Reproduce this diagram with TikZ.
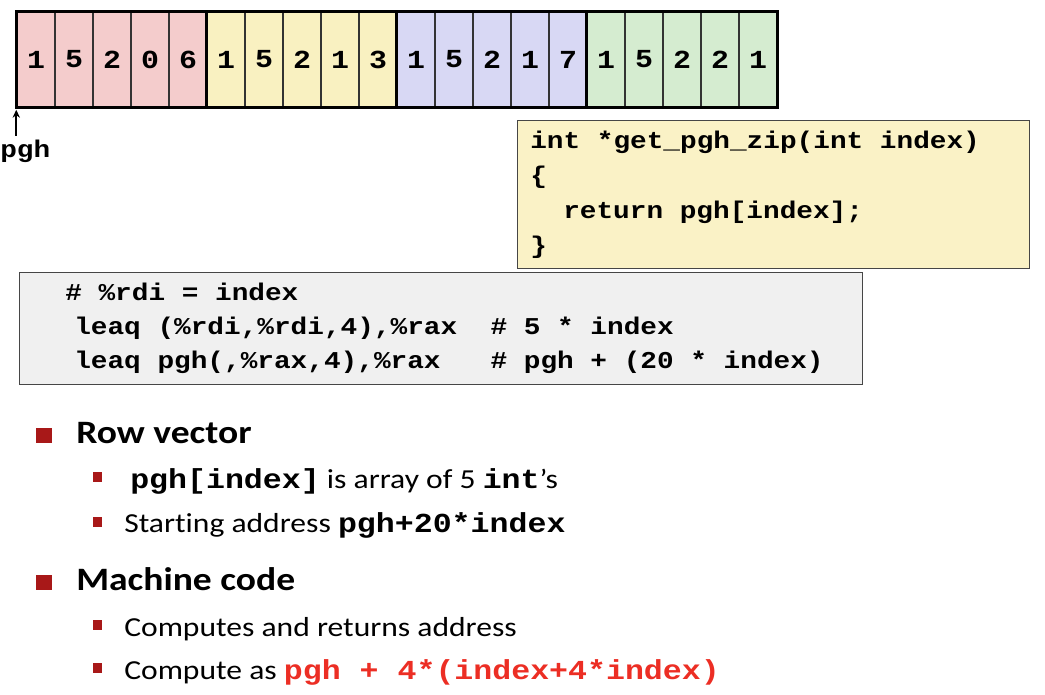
\documentclass[tikz,border=0pt]{standalone}
\usepackage{fontspec}
\setmainfont{Carlito}[FakeStretch=1.15, Ligatures=NoCommon]
\newfontfamily\codefont{Liberation Mono}[FakeStretch=1.15]
\usepackage{tikz}
\usetikzlibrary{arrows,arrows.meta,shapes,positioning}
\usepackage{xcolor}
\definecolor{rowpink}{RGB}{244,204,204}
\definecolor{rowyellow}{RGB}{249,241,193}
\definecolor{rowblue}{RGB}{216,216,244}
\definecolor{rowgreen}{RGB}{213,236,208}
\definecolor{codeyellow}{RGB}{250,242,198}
\definecolor{asmgray}{RGB}{240,240,240}
\definecolor{boxline}{RGB}{70,70,70}
\definecolor{bulletred}{RGB}{168,24,24}
\definecolor{hired}{RGB}{236,46,36}
\newcommand{\codeb}{\codefont\bfseries}
\tikzstyle{cell} = [rectangle, draw=black!80, line width=1.1pt, minimum width=28.5pt, minimum height=71.25pt, inner sep=0pt, font=\codeb\fontsize{19.5pt}{23pt}\selectfont]
\tikzstyle{group} = [draw=black, line width=2.6pt]
\tikzstyle{ptr} = [line width=1.5pt, -{Stealth[length=6pt,width=5.5pt]}, shorten >=1.5pt]
\tikzstyle{code} = [inner sep=0pt, anchor=base west, font=\codeb\fontsize{18.1pt}{22pt}\selectfont]
\tikzstyle{codebox} = [rectangle, draw=boxline, line width=1.1pt, fill=codeyellow, anchor=north west, inner sep=0pt]
\tikzstyle{asmbox} = [rectangle, draw=boxline, line width=1.1pt, fill=asmgray, anchor=north west, inner sep=0pt]
\tikzstyle{head} = [inner sep=0pt, anchor=base west, font=\bfseries\fontsize{24.5pt}{28pt}\selectfont]
\tikzstyle{sub} = [inner sep=0pt, anchor=base west, font=\fontsize{20.6pt}{24pt}\selectfont]
\tikzstyle{hbullet} = [rectangle, fill=bulletred, inner sep=0pt, minimum width=12pt, minimum height=11.25pt]
\tikzstyle{sbullet} = [rectangle, fill=bulletred, inner sep=0pt, minimum width=6.75pt, minimum height=7.5pt]

\begin{document}
\begin{tikzpicture}[x=0.75pt, y=-0.75pt]
\useasboundingbox (0,0) rectangle (1045,694);
% The four rows of pgh
\foreach \col/\digits [count=\g from 0] in {rowpink/{1,5,2,0,6},rowyellow/{1,5,2,1,3},rowblue/{1,5,2,1,7},rowgreen/{1,5,2,2,1}} {
  \foreach \d [count=\i from 0] in \digits
    \node (c\g\i) [cell, fill=\col] at ({36+38*(5*\g+\i)}, 59.5) {\d};
  \draw[group] (c\g0.north west) rectangle (c\g4.south east);
}
\node (pgh) [code] at (0,157) {pgh};
\coordinate (ptrtail) at ([yshift=-21pt]c00.south west);
\draw[ptr] (ptrtail) -- (c00.south west);

% C source
\node (csrc) [codebox, minimum width=384pt, minimum height=111pt] at (517,120) {};
\node (src1) [code] at (530,148) {int *get\_pgh\_zip(int index)};
\node (src2) [code] at (530,183) {\{};
\node (src3) [code] at (563,218) {return pgh[index];};
\node (src4) [code] at (530,253) {\}};

% Assembly
\node (asm) [asmbox, minimum width=632.25pt, minimum height=84pt] at (19,272) {};
\node (asm1) [code] at (65,300) {\# \%rdi = index};
\node (asm2) [code] at (74,334) {leaq (\%rdi,\%rdi,4),\%rax\ \ \# 5 * index};
\node (asm3) [code] at (74,368) {leaq pgh(,\%rax,4),\%rax\ \ \ \# pgh + (20 * index)};

% Bullets
\node (b1) [hbullet] at (43.5,435.5) {};
\node (rowvec) [head] at (76,443) {Row vector};
\node (b1a) [sbullet] at (97,477) {};
\node (rowa) [sub] at (130,488) {{\codeb pgh[index]} is array of 5 {\codeb int}’s};
\node (b1b) [sbullet] at (97,522) {};
\node (rowb) [sub] at (124,532) {Starting address {\codeb pgh+20*index}};
\node (b2) [hbullet] at (43.5,582) {};
\node (mach) [head] at (76,590) {Machine code};
\node (b2a) [sbullet] at (97,625) {};
\node (macha) [sub] at (124,636) {Computes and returns address};
\node (b2b) [sbullet] at (97,668) {};
\node (machb) [sub] at (124,679) {Compute as {\color{hired}\codeb pgh + 4*(index+4*index)}};
\end{tikzpicture}
\end{document}
